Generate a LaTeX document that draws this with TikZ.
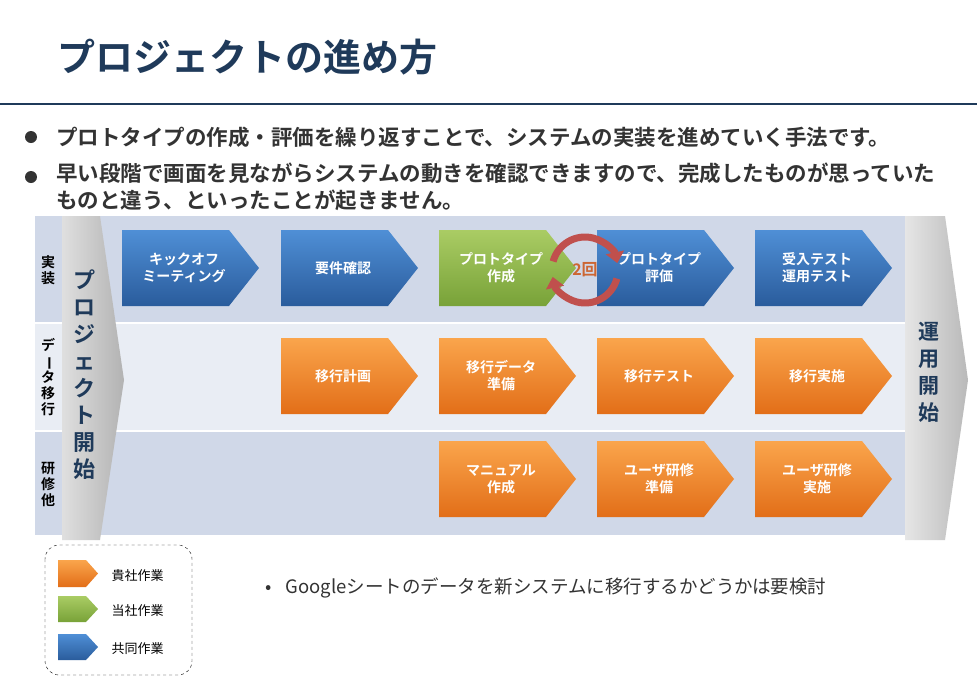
\documentclass[tikz,border=0pt]{standalone}
\usepackage{fontspec}
\setmainfont{Noto Sans CJK JP}
\newfontfamily\jpb{Noto Sans CJK JP Bold}
\usetikzlibrary{arrows.meta}
\definecolor{navy}{HTML}{1F3A5A}
\definecolor{rowa}{HTML}{D0D8E8}
\definecolor{rowb}{HTML}{E9EDF4}
\definecolor{txt}{HTML}{333333}
\definecolor{bluet}{HTML}{4F8FD6}
\definecolor{blueb}{HTML}{2A5C9C}
\definecolor{orat}{HTML}{FAA54C}
\definecolor{orab}{HTML}{E26E18}
\definecolor{grnt}{HTML}{AACC64}
\definecolor{grnb}{HTML}{78A238}
\definecolor{cyc}{HTML}{C0504D}
\newcommand{\chev}[6]{%
  \shade[top color=#4, bottom color=#5] (#2,#3) -- ++(107,0) -- ++(30,38) -- ++(-30,38) -- ++(-107,0) -- cycle;
  \node[boxtxt] (#1) at ({#2+62},{#3+38}) {#6};}
\begin{document}
\begin{tikzpicture}[x=1pt,y=-1pt,
  boxtxt/.style={text=white,font=\jpb\fontsize{14}{17}\selectfont,align=center},
  vlab/.style={font=\jpb\fontsize{14}{16}\selectfont,align=center,inner sep=0},
  legtxt/.style={font=\fontsize{13}{15}\selectfont,anchor=west}]
\useasboundingbox (0,0) rectangle (977,694);
\fill[white] (0,0) rectangle (977,694);
\node[anchor=west,text=navy,font=\jpb\fontsize{38}{42}\selectfont,inner sep=0] (title) at (57,57) {プロジェクトの進め方};
\draw[navy,line width=2.5pt] (0,104) -- (977,104);
\fill[txt] (31,137) circle (6);
\fill[txt] (31,177) circle (6);
\node[anchor=west,text=txt,font=\jpb\fontsize{21.5}{26}\selectfont,inner sep=0] (b1) at (56,137) {プロトタイプの作成・評価を繰り返すことで、システムの実装を進めていく手法です。};
\node[anchor=north west,text=txt,font=\jpb\fontsize{21.5}{26.5}\selectfont,align=left,inner sep=0] (b2) at (56,163) {早い段階で画面を見ながらシステムの動きを確認できますので、完成したものが思っていた\\ものと違う、といったことが起きません。};
% rows
\fill[rowa] (35,216) rectangle (905,322);
\fill[rowb] (35,324) rectangle (905,430);
\fill[rowa] (35,432) rectangle (905,535);
\node[vlab] (l1) at (48,270) {実\\装};
\node[vlab] (l2) at (48,377) {デ\\\rotatebox[origin=c]{-90}{ー}\\タ\\移\\行};
\node[vlab] (l3) at (48,484) {研\\修\\他};
% start / end chevrons
\shade[left color=gray!25,right color=gray!60] (62,216) -- (100,216) -- (124,380) -- (100,540) -- (62,540) -- cycle;
\node[vlab,text=navy,font=\jpb\fontsize{22}{27}\selectfont] (start) at (84,375) {プ\\ロ\\ジ\\ェ\\ク\\ト\\開\\始};
\shade[left color=gray!20,right color=gray!55] (905,216) -- (945,216) -- (968,380) -- (945,540) -- (905,540) -- cycle;
\node[vlab,text=navy,font=\jpb\fontsize{21}{27}\selectfont] (end) at (929,372) {運\\用\\開\\始};
% boxes
\chev{a1}{122}{230}{bluet}{blueb}{キックオフ\\ミーティング}
\chev{a2}{281}{230}{bluet}{blueb}{要件確認}
\chev{a3}{439}{230}{grnt}{grnb}{プロトタイプ\\作成}
\chev{a4}{597}{230}{bluet}{blueb}{プロトタイプ\\評価}
\chev{a5}{755}{230}{bluet}{blueb}{受入テスト\\運用テスト}
\chev{b2}{281}{338}{orat}{orab}{移行計画}
\chev{b3}{439}{338}{orat}{orab}{移行データ\\準備}
\chev{b4}{597}{338}{orat}{orab}{移行テスト}
\chev{b5}{755}{338}{orat}{orab}{移行実施}
\chev{c3}{439}{441}{orat}{orab}{マニュアル\\作成}
\chev{c4}{597}{441}{orat}{orab}{ユーザ研修\\準備}
\chev{c5}{755}{441}{orat}{orab}{ユーザ研修\\実施}
% cycle arrows
\coordinate (cc) at (585,270);
\draw[cyc,line width=7pt,-{Triangle[length=11pt,width=18pt]}] ([shift={(165:33pt)}]cc) arc[start angle=165,end angle=12,radius=33pt];
\draw[cyc,line width=7pt,-{Triangle[length=11pt,width=18pt]}] ([shift={(-15:33pt)}]cc) arc[start angle=-15,end angle=-168,radius=33pt];
\node[text=brown!80!red,font=\jpb\fontsize{16}{18}\selectfont] (two) at (585,270) {2回};
% legend
\draw[dashed,rounded corners=14pt] (45,545) rectangle (192,675);
\shade[top color=orat,bottom color=orab] (58,560) -- (86,560) -- (98,573.5) -- (86,587) -- (58,587) -- cycle;
\shade[top color=grnt,bottom color=grnb] (58,596) -- (86,596) -- (98,609) -- (86,622) -- (58,622) -- cycle;
\shade[top color=bluet,bottom color=blueb] (58,634) -- (86,634) -- (98,647) -- (86,660) -- (58,660) -- cycle;
\node[legtxt] (g1) at (108,576) {貴社作業};
\node[legtxt] (g2) at (108,611) {当社作業};
\node[legtxt] (g3) at (108,649) {共同作業};
\node[anchor=west,text=txt,font=\fontsize{18.5}{22}\selectfont,inner sep=0] (note) at (265,588) {•\hspace{14pt}Googleシートのデータを新システムに移行するかどうかは要検討};
\end{tikzpicture}
\end{document}
